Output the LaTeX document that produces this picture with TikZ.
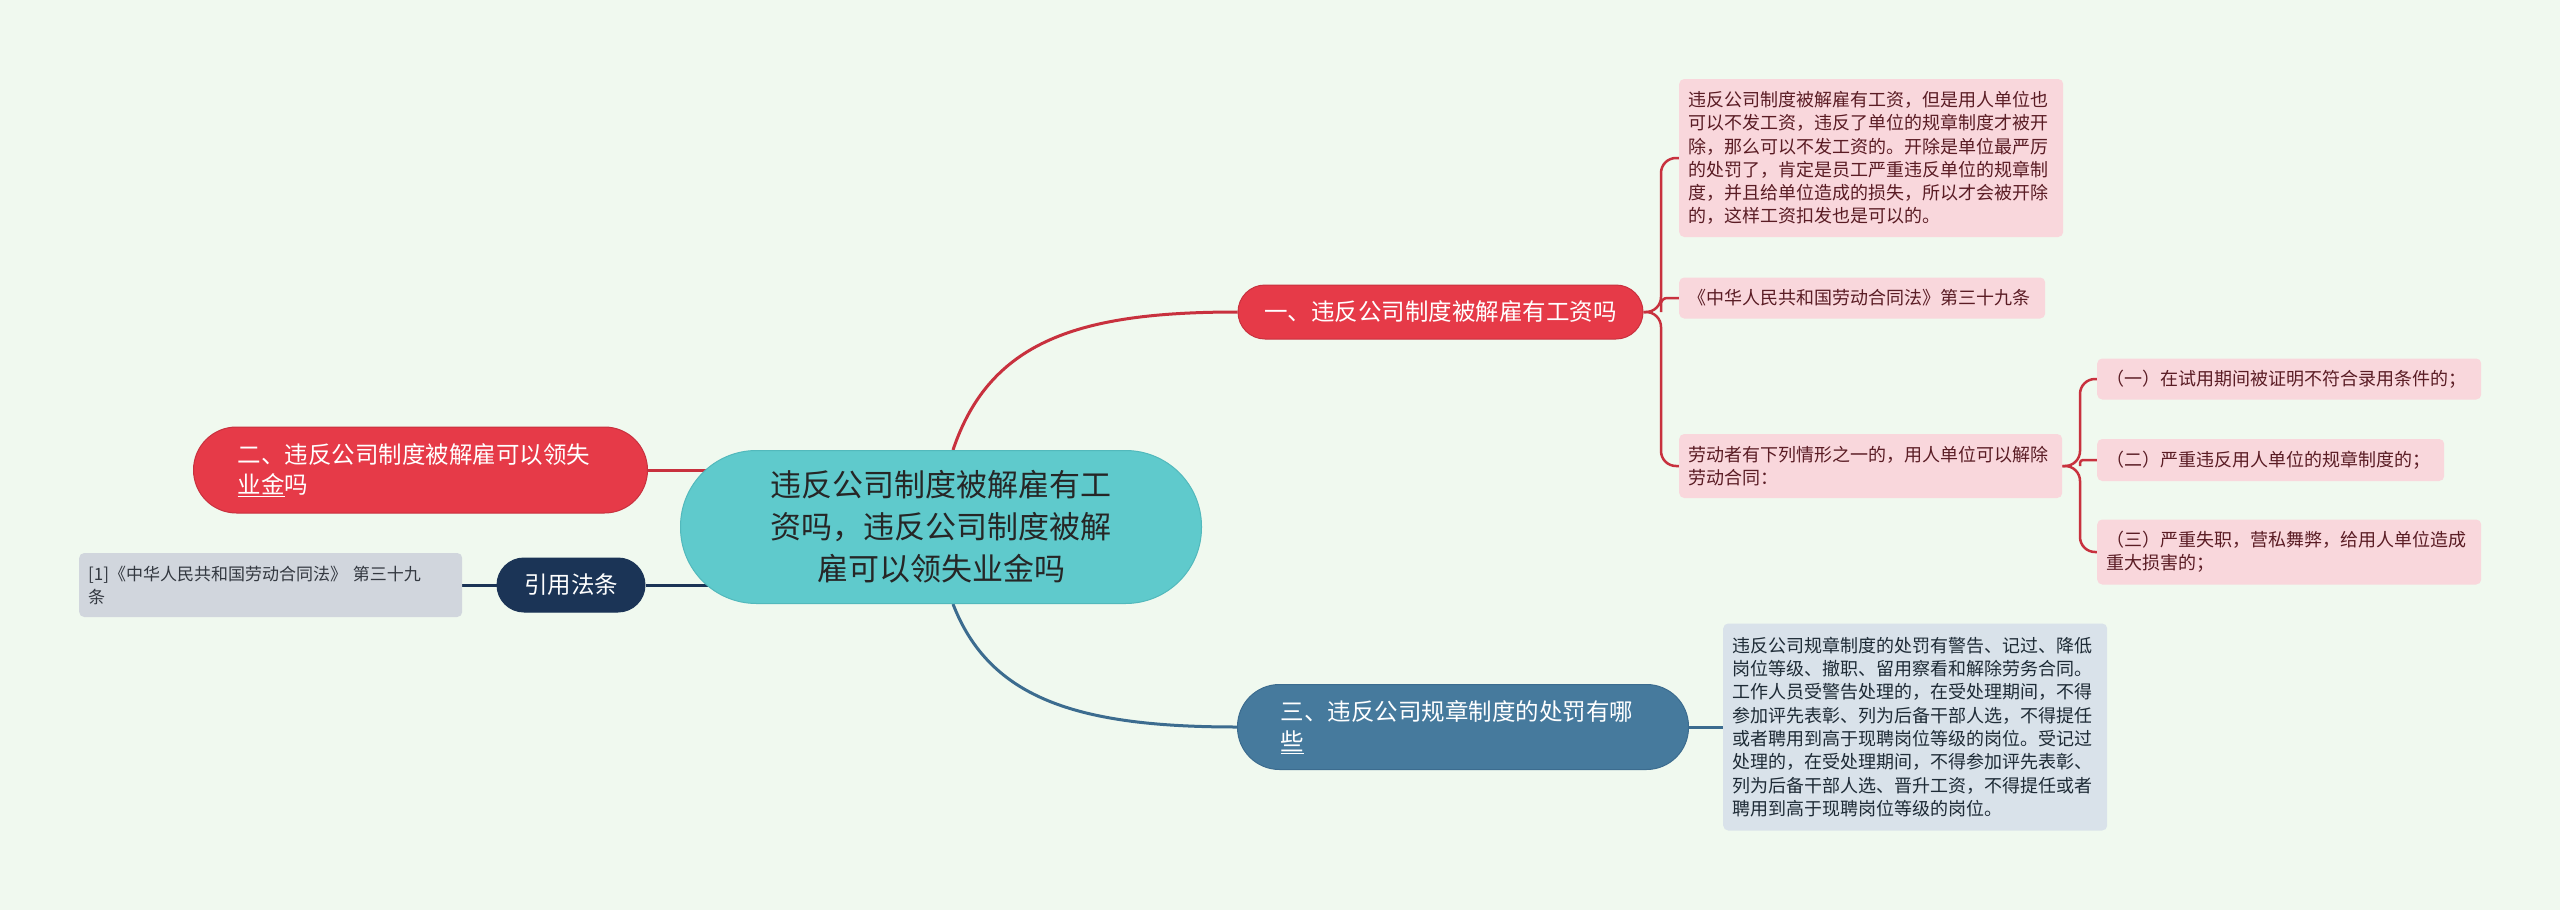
\documentclass[tikz,border=0pt]{standalone}
\usepackage{fontspec}
\setmainfont{Noto Sans CJK SC}
\definecolor{bgc}{HTML}{F0F9EF}
\definecolor{redf}{HTML}{E63A48}
\definecolor{redd}{HTML}{C8313E}
\definecolor{navyf}{HTML}{1B3456}
\definecolor{bluef}{HTML}{467A9D}
\definecolor{blued}{HTML}{3C6C8F}
\definecolor{tealf}{HTML}{5FCACC}
\definecolor{teald}{HTML}{52B9BC}
\definecolor{pinkf}{HTML}{F9D7DC}
\definecolor{pinkt}{HTML}{5A1C24}
\definecolor{grayf}{HTML}{D1D6DD}
\definecolor{grayt}{HTML}{333840}
\definecolor{bluegf}{HTML}{D9E2EA}
\definecolor{bluegt}{HTML}{1E2B36}
\pgfdeclarelayer{bgl}
\pgfdeclarelayer{lines}
\pgfsetlayers{bgl,lines,main}
\tikzset{
  leafbox/.style={anchor=west, rounded corners=5pt, inner xsep=9pt, inner ysep=0pt, align=left,
    font=\fontsize{18}{23.3}\selectfont},
  pinkbox/.style={leafbox, fill=pinkf, text=pinkt},
  topic/.style={inner sep=0pt, line width=1pt, text=white},
  redline/.style={draw=redd, line width=3pt},
  redthin/.style={draw=redd, line width=2.5pt, rounded corners=15pt},
}
\begin{document}
\begin{tikzpicture}[x=1pt,y=-1pt]
\begin{pgfonlayer}{bgl}
\fill[bgc] (0,0) rectangle (2560,910);
\end{pgfonlayer}
\useasboundingbox (0,0) rectangle (2560,910);

% central
\node[fill=tealf, draw=teald, line width=1pt, rounded corners=76pt, minimum width=521pt, minimum height=153pt,
  inner sep=0pt, align=center, text=black!85, font=\fontsize{31}{42}\selectfont] (c) at (941,527)
  {违反公司制度被解雇有工\\资吗，违反公司制度被解\\雇可以领失业金吗};

% main topics
\node[topic, fill=redf, draw=redd, rounded corners=27pt, minimum width=405pt, minimum height=54pt,
  font=\fontsize{23.5}{29.5}\selectfont] (n1) at (1440.5,312) {一、违反公司制度被解雇有工资吗};
\node[topic, fill=redf, draw=redd, rounded corners=43pt, anchor=west, inner xsep=44pt, text width=366pt,
  minimum height=86pt, align=left, font=\fontsize{23.5}{29.5}\selectfont] (n2) at (193,470)
  {二、违反公司制度被解雇可以领失\\\underline{业金}吗};
\node[topic, fill=bluef, draw=blued, rounded corners=42pt, anchor=west, inner xsep=43pt, text width=365pt,
  minimum height=85pt, align=left, font=\fontsize{23.5}{29.5}\selectfont] (n3) at (1237,727)
  {三、违反公司规章制度的处罚有哪\\\underline{些}};
\node[topic, fill=navyf, draw=navyf, rounded corners=27pt, minimum width=148pt, minimum height=54pt,
  font=\fontsize{23.5}{29.5}\selectfont] (cite) at (571,585) {引用法条};

% leaves
\node[leafbox, fill=grayf, text=grayt, text width=365pt, minimum height=64pt,
  font=\fontsize{17}{23}\selectfont] (cb) at (79,585)
  {[1]《中华人民共和国劳动合同法》~第三十九\\条};
\node[pinkbox, text width=366pt, minimum height=158pt] (L1) at (1679,158)
  {违反公司制度被解雇有工资，但是用人单位也\\可以不发工资，违反了单位的规章制度才被开\\除，那么可以不发工资的。开除是单位最严厉\\的处罚了，肯定是员工严重违反单位的规章制\\度，并且给单位造成的损失，所以才会被开除\\的，这样工资扣发也是可以的。};
\node[pinkbox, text width=348pt, minimum height=41pt] (L2) at (1679,298)
  {《中华人民共和国劳动合同法》第三十九条};
\node[pinkbox, text width=365pt, minimum height=64pt] (L3) at (1679,466)
  {劳动者有下列情形之一的，用人单位可以解除\\劳动合同：};
\node[pinkbox, text width=366pt, minimum height=41pt] (S1) at (2097,379)
  {（一）在试用期间被证明不符合录用条件的；};
\node[pinkbox, text width=329pt, minimum height=42pt] (S2) at (2097,460)
  {（二）严重违反用人单位的规章制度的；};
\node[pinkbox, text width=366pt, minimum height=65pt] (S3) at (2097,552)
  {（三）严重失职，营私舞弊，给用人单位造成\\重大损害的；};
\node[leafbox, fill=bluegf, text=bluegt, text width=366pt, minimum height=207pt] (B3) at (1723,727)
  {违反公司规章制度的处罚有警告、记过、降低\\岗位等级、撤职、留用察看和解除劳务合同。\\工作人员受警告处理的，在受处理期间，不得\\参加评先表彰、列为后备干部人选，不得提任\\或者聘用到高于现聘岗位等级的岗位。受记过\\处理的，在受处理期间，不得参加评先表彰、\\列为后备干部人选、晋升工资，不得提任或者\\聘用到高于现聘岗位等级的岗位。};

\coordinate (ctop) at ([xshift=12pt]c.north);
\coordinate (cbot) at ([xshift=12pt]c.south);
\coordinate (b1) at (1661,312);
\coordinate (b2) at (2080,466);

\begin{pgfonlayer}{lines}
\draw[redline] (ctop) .. controls (990,340) and (1080,312) .. (n1.west);
\draw[draw=blued, line width=3pt] (cbot) .. controls (990,700) and (1080,727) .. (n3.west);
\draw[draw=blued, line width=3pt] (n3.east) -- (B3.west);
\draw[redline] (n2.east) -- (n2.east -| c.center);
\draw[draw=navyf, line width=3pt] (cite.east) -- (cite.east -| c.center);
\draw[draw=navyf, line width=3pt] (cb.east) -- (cite.west);
% bracket of topic one
\draw[redthin] (n1.east) -- (b1) -- (b1 |- L1.west) -- (L1.west);
\draw[redthin] (n1.east) -- (b1) -- (b1 |- L3.west) -- (L3.west);
\draw[redthin, rounded corners=6pt] (b1) -- (b1 |- L2.west) -- (L2.west);
% bracket of leaf three
\draw[redthin] (L3.east) -- (b2) -- (b2 |- S1.west) -- (S1.west);
\draw[redthin] (L3.east) -- (b2) -- (b2 |- S3.west) -- (S3.west);
\draw[redthin, rounded corners=3pt] (b2) -- (b2 |- S2.west) -- (S2.west);
\end{pgfonlayer}
\end{tikzpicture}
\end{document}
